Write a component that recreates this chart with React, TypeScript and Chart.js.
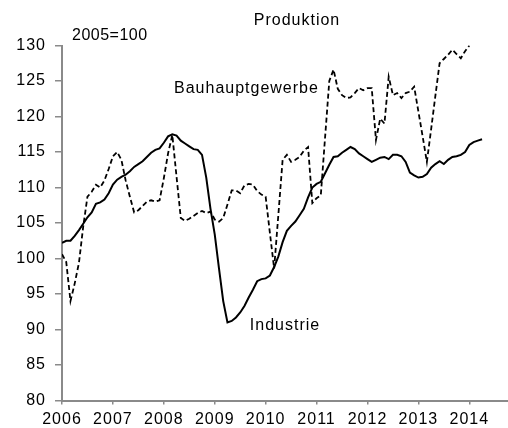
import React, { useEffect, useRef } from "react";
import { Chart, registerables } from "chart.js";

Chart.register(...registerables);

// Monthly index values, 2005=100, starting January 2006
const START_YEAR = 2006;

const industrie = [
  102.2, 102.5, 102.5, 103.2, 104.0, 104.9, 105.8, 106.5, 107.7, 107.9, 108.3, 109.2,
  110.4, 111.1, 111.5, 111.8, 112.3, 112.9, 113.3, 113.7, 114.3, 114.9, 115.3, 115.5,
  116.3, 117.2, 117.5, 117.3, 116.6, 116.2, 115.8, 115.4, 115.3, 114.6, 111.4, 107.0,
  103.4, 98.6, 94.0, 91.0, 91.2, 91.7, 92.4, 93.3, 94.5, 95.6, 96.8, 97.1,
  97.2, 97.6, 98.8, 100.3, 102.3, 103.9, 104.6, 105.2, 106.1, 107.0, 108.6, 110.0,
  110.5, 110.8, 112.0, 113.2, 114.3, 114.4, 114.9, 115.3, 115.7, 115.4, 114.8, 114.4,
  114.0, 113.6, 113.9, 114.2, 114.3, 114.0, 114.6, 114.6, 114.4, 113.6, 112.1, 111.7,
  111.4, 111.5, 111.9, 112.8, 113.3, 113.7, 113.3, 113.9, 114.3, 114.4, 114.6, 115.0,
  116.0, 116.4, 116.6, 116.8,
];

const bauhauptgewerbe = [
  100.6, 99.5, 94.0, 96.5, 99.4, 104.5, 108.7, 109.4, 110.4, 110.0, 111.0, 112.6,
  114.4, 115.0, 113.9, 111.0, 108.7, 106.5, 106.8, 107.4, 108.0, 108.2, 108.0, 108.2,
  111.3, 114.8, 117.4, 111.5, 105.7, 105.3, 105.6, 106.0, 106.4, 106.7, 106.4, 106.6,
  105.5, 105.2, 105.7, 107.6, 109.6, 109.6, 109.2, 110.3, 110.5, 110.4, 109.5, 109.0,
  108.7, 103.6, 98.6, 106.2, 113.9, 114.6, 113.6, 113.9, 114.3, 115.2, 115.7, 107.8,
  108.5, 108.9, 117.0, 125.0, 126.6, 123.9, 123.0, 122.6, 122.7, 123.3, 124.0, 123.7,
  124.0, 124.0, 116.7, 119.7, 119.0, 125.6, 123.0, 123.3, 122.6, 123.3, 123.5, 124.2,
  120.7, 117.2, 113.6, 118.2, 122.9, 127.5, 128.1, 128.7, 129.4, 128.8, 128.2, 129.2,
  130.0,
];

const yearTicks = [2006, 2007, 2008, 2009, 2010, 2011, 2012, 2013, 2014];
const yMin = 80;
const yMax = 130;
const yStep = 5;

const titleText = "Produktion";
const baseText = "2005=100";
const labelBau = "Bauhauptgewerbe";
const labelInd = "Industrie";

const toPoints = (arr: number[]) =>
  arr.map((v, i) => ({ x: START_YEAR + i / 12, y: v }));

const FONT = '"Liberation Sans", Arial, sans-serif';
const AXIS_GRAY = "#8a8a8a";

const textPlugin = {
  id: "texts",
  beforeDraw(chart: any) {
    chart.ctx.letterSpacing = "1px";
  },
  afterDraw(chart: any) {
    const { ctx } = chart;
    const xs = chart.scales.x;
    const ys = chart.scales.y;
    ctx.save();
    ctx.font = `16px ${FONT}`;
    ctx.fillStyle = "#000";
    ctx.textBaseline = "middle";
    ctx.letterSpacing = "1px";
    ctx.textAlign = "center";
    ctx.fillText(titleText, 297, 21);
    ctx.textAlign = "left";
    ctx.letterSpacing = "0.5px";
    ctx.fillText(baseText, 72, 36);
    ctx.letterSpacing = "1px";
    ctx.fillText(labelBau, xs.getPixelForValue(2008.2), ys.getPixelForValue(124.0));
    ctx.fillText(labelInd, xs.getPixelForValue(2009.69), ys.getPixelForValue(90.6));
    ctx.restore();
  },
};

export default function App() {
  const canvasRef = useRef<HTMLCanvasElement | null>(null);

  useEffect(() => {
    const canvas = canvasRef.current;
    if (!canvas) return;
    const chart = new Chart(canvas, {
      type: "line",
      data: {
        datasets: [
          {
            label: labelInd,
            data: toPoints(industrie),
            borderColor: "#000",
            borderWidth: 2,
            pointRadius: 0,
            tension: 0,
            fill: false,
          },
          {
            label: labelBau,
            data: toPoints(bauhauptgewerbe),
            borderColor: "#000",
            borderWidth: 1.8,
            borderDash: [5, 3],
            pointRadius: 0,
            tension: 0,
            fill: false,
          },
        ],
      },
      options: {
        animation: false,
        responsive: false,
        devicePixelRatio: 1,
        layout: { padding: { top: 45.5, left: 0, right: 0, bottom: 0 } },
        plugins: {
          legend: { display: false },
          title: { display: false },
          tooltip: { enabled: false },
        },
        scales: {
          x: {
            type: "linear",
            min: 2006,
            max: 2014.76,
            afterBuildTicks: (scale: any) => {
              scale.ticks = yearTicks.map((v) => ({ value: v }));
            },
            afterFit: (scale: any) => {
              scale.height = 27.5;
            },
            ticks: {
              autoSkip: false,
              maxRotation: 0,
              minRotation: 0,
              padding: 5,
              color: "#000",
              font: { family: FONT, size: 16 },
              callback: (v: any) => String(v),
            },
            grid: {
              drawOnChartArea: false,
              drawTicks: true,
              tickLength: 4,
              color: AXIS_GRAY,
              lineWidth: 1.5,
            },
            border: { display: true, color: AXIS_GRAY, width: 2 },
          },
          y: {
            type: "linear",
            min: yMin,
            max: yMax,
            afterFit: (scale: any) => {
              scale.width = 62;
            },
            ticks: {
              stepSize: yStep,
              padding: 9,
              color: "#000",
              font: { family: FONT, size: 16 },
              callback: (v: any) => String(v),
            },
            grid: {
              drawOnChartArea: false,
              drawTicks: true,
              tickLength: 7,
              color: AXIS_GRAY,
              lineWidth: 1.5,
            },
            border: { display: true, color: AXIS_GRAY, width: 2 },
          },
        },
      },
      plugins: [textPlugin],
    });
    return () => chart.destroy();
  }, []);

  return (
    <div style={{ position: "absolute", left: 0, top: 0, width: 508, height: 428, background: "#fff" }}>
      <canvas ref={canvasRef} width={508} height={428} style={{ display: "block" }} />
    </div>
  );
}
